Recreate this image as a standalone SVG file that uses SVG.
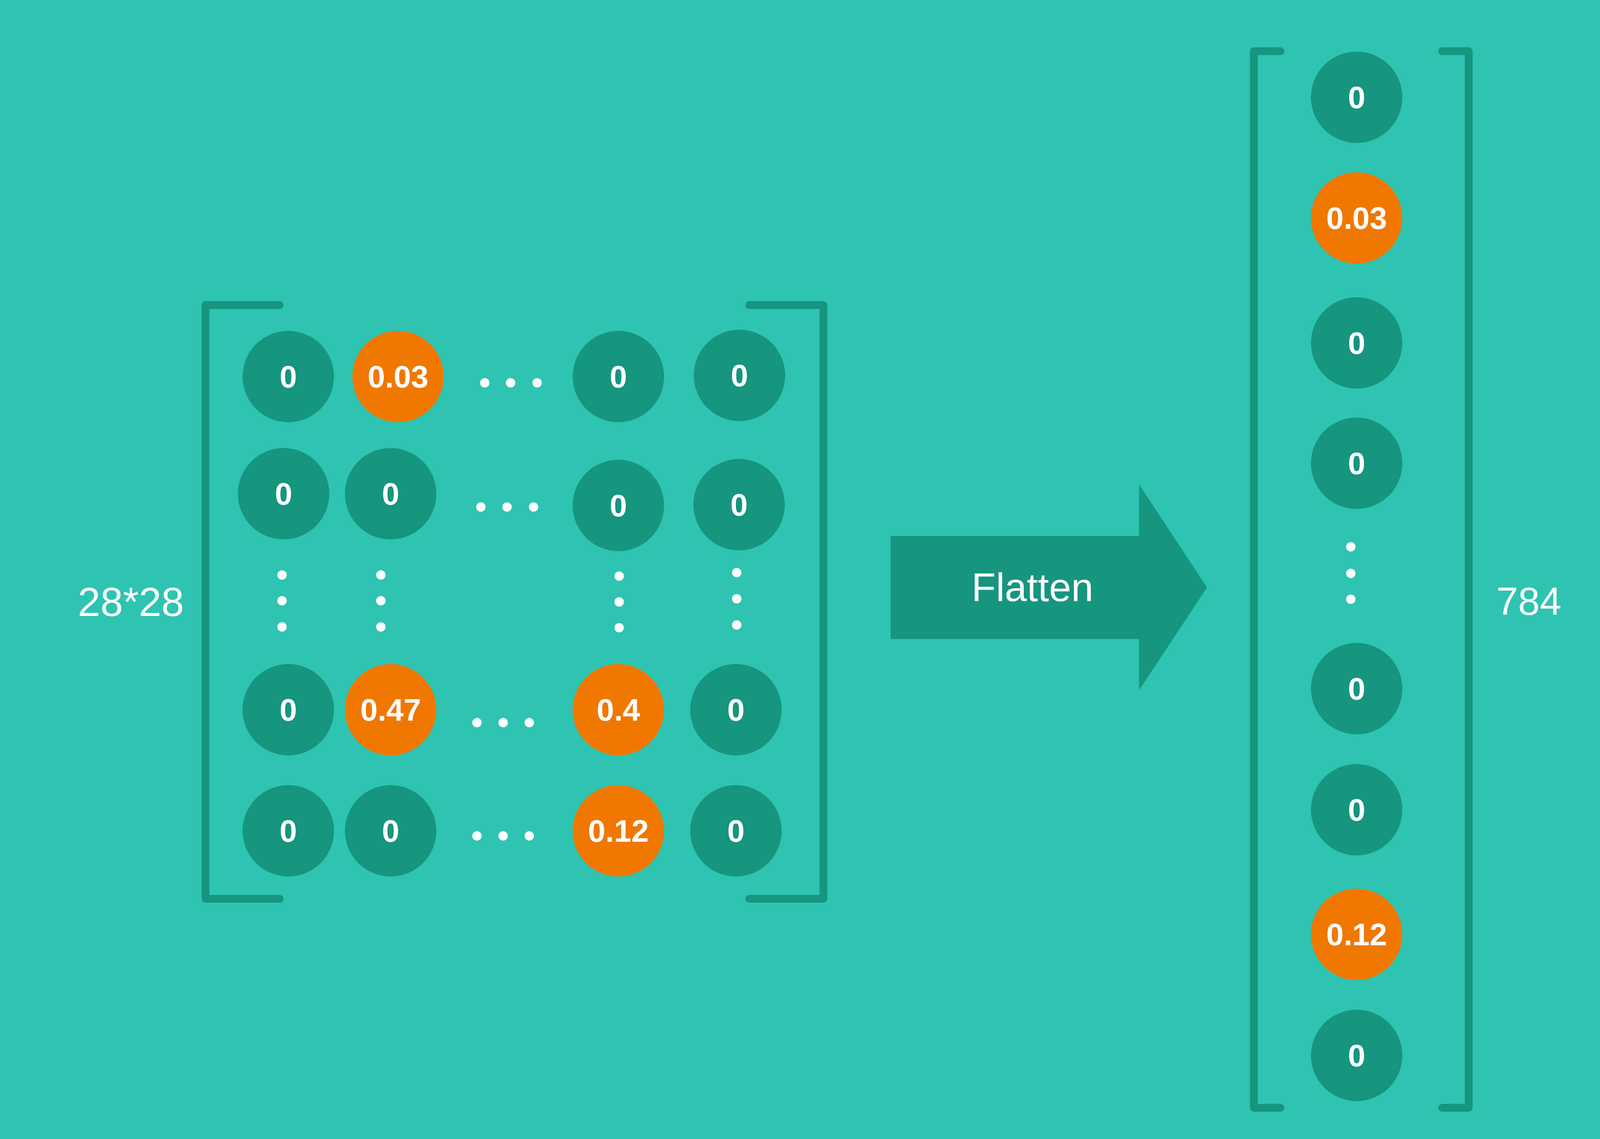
<svg xmlns="http://www.w3.org/2000/svg" width="4350" height="2916" viewBox="0 0 4350 2916">
<style>
.bg{fill:#2EC4B1}
.n{fill:#16957F}
.o{fill:#F07800}
.v{fill:#FFFFFF;font-family:"Liberation Sans",Arial,sans-serif;font-weight:bold;font-size:80px;text-anchor:middle}
.lbl{fill:#FFFFFF;font-family:"Liberation Sans",Arial,sans-serif;font-size:104px;text-anchor:middle}
.br{fill:none;stroke:#16957F;stroke-width:20;stroke-linecap:round;stroke-linejoin:round}
.d{fill:#FFFFFF}
</style>
<rect class="bg" x="0" y="0" width="4350" height="2916"/>

<g id="matrix-brackets">
<path class="br" d="M716,781 H526 V2301 H716"/>
<path class="br" d="M1918,781 H2108 V2301 H1918"/>
</g>

<g id="m-r1c1"><circle class="n" cx="738" cy="964" r="117"/><text class="v" x="738" y="992">0</text></g>
<g id="m-r1c2"><circle class="o" cx="1019" cy="964" r="117"/><text class="v" x="1019" y="992">0.03</text></g>
<g id="m-r1c3"><circle class="n" cx="1583" cy="964" r="117"/><text class="v" x="1583" y="992">0</text></g>
<g id="m-r1c4"><circle class="n" cx="1893" cy="961" r="117"/><text class="v" x="1893" y="989">0</text></g>

<g id="m-r2c1"><circle class="n" cx="726" cy="1264" r="117"/><text class="v" x="726" y="1292">0</text></g>
<g id="m-r2c2"><circle class="n" cx="1000" cy="1264" r="117"/><text class="v" x="1000" y="1292">0</text></g>
<g id="m-r2c3"><circle class="n" cx="1583" cy="1294" r="117"/><text class="v" x="1583" y="1322">0</text></g>
<g id="m-r2c4"><circle class="n" cx="1892" cy="1292" r="117"/><text class="v" x="1892" y="1320">0</text></g>

<g id="m-r3c1"><circle class="n" cx="738" cy="1817" r="117"/><text class="v" x="738" y="1845">0</text></g>
<g id="m-r3c2"><circle class="o" cx="1000" cy="1817" r="117"/><text class="v" x="1000" y="1845">0.47</text></g>
<g id="m-r3c3"><circle class="o" cx="1583" cy="1817" r="117"/><text class="v" x="1583" y="1845">0.4</text></g>
<g id="m-r3c4"><circle class="n" cx="1884" cy="1817" r="117"/><text class="v" x="1884" y="1845">0</text></g>

<g id="m-r4c1"><circle class="n" cx="738" cy="2127" r="117"/><text class="v" x="738" y="2155">0</text></g>
<g id="m-r4c2"><circle class="n" cx="1000" cy="2127" r="117"/><text class="v" x="1000" y="2155">0</text></g>
<g id="m-r4c3"><circle class="o" cx="1583" cy="2127" r="117"/><text class="v" x="1583" y="2155">0.12</text></g>
<g id="m-r4c4"><circle class="n" cx="1884" cy="2127" r="117"/><text class="v" x="1884" y="2155">0</text></g>

<g id="matrix-ellipses">
<circle class="d" cx="1241" cy="980" r="12"/><circle class="d" cx="1307" cy="980" r="12"/><circle class="d" cx="1375" cy="980" r="12"/>
<circle class="d" cx="1231" cy="1298" r="12"/><circle class="d" cx="1298" cy="1298" r="12"/><circle class="d" cx="1366" cy="1298" r="12"/>
<circle class="d" cx="1221" cy="1850" r="12"/><circle class="d" cx="1288" cy="1850" r="12"/><circle class="d" cx="1355" cy="1850" r="12"/>
<circle class="d" cx="1221" cy="2140" r="12"/><circle class="d" cx="1288" cy="2140" r="12"/><circle class="d" cx="1355" cy="2140" r="12"/>
<circle class="d" cx="722" cy="1472" r="12"/><circle class="d" cx="722" cy="1538" r="12"/><circle class="d" cx="722" cy="1605" r="12"/>
<circle class="d" cx="975" cy="1472" r="12"/><circle class="d" cx="975" cy="1538" r="12"/><circle class="d" cx="975" cy="1605" r="12"/>
<circle class="d" cx="1585" cy="1475" r="12"/><circle class="d" cx="1585" cy="1541" r="12"/><circle class="d" cx="1585" cy="1607" r="12"/>
<circle class="d" cx="1886" cy="1466" r="12"/><circle class="d" cx="1886" cy="1533" r="12"/><circle class="d" cx="1886" cy="1600" r="12"/>
</g>

<g id="label-28x28"><text class="lbl" x="335" y="1577">28*28</text></g>

<g id="connectors">
<polygon fill="#16957F" points="2280,1372 2916,1372 2916,1240 3090,1504 2916,1767 2916,1636 2280,1636"/>
<text fill="#FFFFFF" font-family="'Liberation Sans',Arial,sans-serif" font-size="102" text-anchor="middle" x="2643" y="1539">Flatten</text>
</g>

<g id="vector-brackets">
<path class="br" d="M3278,131 H3210 V2836 H3278"/>
<path class="br" d="M3692,131 H3760 V2836 H3692"/>
</g>

<g id="v1"><circle class="n" cx="3473" cy="249" r="117"/><text class="v" x="3473" y="277">0</text></g>
<g id="v2"><circle class="o" cx="3473" cy="558" r="117"/><text class="v" x="3473" y="586">0.03</text></g>
<g id="v3"><circle class="n" cx="3473" cy="878" r="117"/><text class="v" x="3473" y="906">0</text></g>
<g id="v4"><circle class="n" cx="3473" cy="1186" r="117"/><text class="v" x="3473" y="1214">0</text></g>
<g id="vector-ellipsis">
<circle class="d" cx="3458" cy="1400" r="12"/><circle class="d" cx="3458" cy="1468" r="12"/><circle class="d" cx="3458" cy="1534" r="12"/>
</g>
<g id="v5"><circle class="n" cx="3473" cy="1763" r="117"/><text class="v" x="3473" y="1791">0</text></g>
<g id="v6"><circle class="n" cx="3473" cy="2073" r="117"/><text class="v" x="3473" y="2101">0</text></g>
<g id="v7"><circle class="o" cx="3473" cy="2392" r="117"/><text class="v" x="3473" y="2420">0.12</text></g>
<g id="v8"><circle class="n" cx="3473" cy="2702" r="117"/><text class="v" x="3473" y="2730">0</text></g>

<g id="label-784"><text class="lbl" x="3914" y="1574" style="font-size:100px">784</text></g>
</svg>
